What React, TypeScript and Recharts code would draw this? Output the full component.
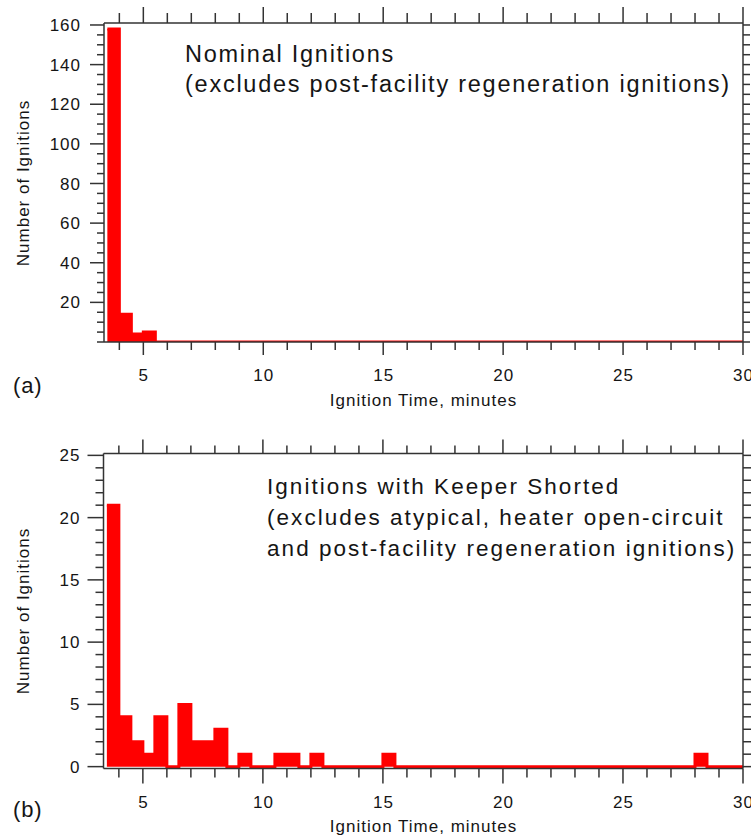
import { Area, ComposedChart, XAxis, YAxis } from 'recharts'

// histogram bins are 0.5 min wide; each value holds from its start to the next start
const BIN_START = [
  3.5, 4, 4.5, 5, 5.5, 6, 6.5, 7, 7.5, 8, 8.5, 9, 9.5, 10, 10.5, 11, 11.5, 12, 12.5, 13,
  13.5, 14, 14.5, 15, 15.5, 16, 16.5, 17, 17.5, 18, 18.5, 19, 19.5, 20, 20.5, 21, 21.5, 22,
  22.5, 23, 23.5, 24, 24.5, 25, 25.5, 26, 26.5, 27, 27.5, 28, 28.5, 29, 29.5, 30,
]

const NOMINAL_COUNTS = [
  158, 14, 4, 5, 0, 0, 0, 0, 0, 0, 0, 0, 0, 0, 0, 0, 0, 0, 0, 0,
  0, 0, 0, 0, 0, 0, 0, 0, 0, 0, 0, 0, 0, 0, 0, 0, 0, 0,
  0, 0, 0, 0, 0, 0, 0, 0, 0, 0, 0, 0, 0, 0, 0, 0,
]

const KEEPER_COUNTS = [
  21, 4, 2, 1, 4, 0, 5, 2, 2, 3, 0, 1, 0, 0, 1, 1, 0, 1, 0, 0,
  0, 0, 0, 1, 0, 0, 0, 0, 0, 0, 0, 0, 0, 0, 0, 0, 0, 0,
  0, 0, 0, 0, 0, 0, 0, 0, 0, 0, 0, 1, 0, 0, 0, 0,
]

const X_TICKS = [4, 5, 6, 7, 8, 9, 10, 11, 12, 13, 14, 15, 16, 17, 18, 19, 20, 21, 22, 23, 24, 25, 26, 27, 28, 29, 30]
const X_LABELS = [5, 10, 15, 20, 25, 30]

const NOMINAL_Y_TICKS = [0, 5, 10, 15, 20, 25, 30, 35, 40, 45, 50, 55, 60, 65, 70, 75, 80, 85, 90, 95, 100, 105, 110, 115, 120, 125, 130, 135, 140, 145, 150, 155, 160]
const NOMINAL_Y_LABELS = [20, 40, 60, 80, 100, 120, 140, 160]

const KEEPER_Y_TICKS = [0, 1, 2, 3, 4, 5, 6, 7, 8, 9, 10, 11, 12, 13, 14, 15, 16, 17, 18, 19, 20, 21, 22, 23, 24, 25]
const KEEPER_Y_LABELS = [0, 5, 10, 15, 20, 25]

const AXIS = '#333'
const INK = '#151515'
const RED = '#ff0000'
const FONT = '"Liberation Sans", Arial, sans-serif'

type Side = 'top' | 'bottom' | 'left' | 'right'

interface TickOpts {
  side: Side
  majors: number[]
  majorLen: number
  minorLen: number
  labelGap?: number
}

// tickSize/tickMargin are 0, so x/y passed in sit on the axis line
function makeTick({ side, majors, majorLen, minorLen, labelGap }: TickOpts) {
  return (props: any) => {
    const { x, y, payload } = props
    const v = payload.value
    const major = majors.includes(v)
    const len = major ? majorLen : minorLen
    const ls = { stroke: AXIS, strokeWidth: 1.5 }
    const txt = { fontFamily: FONT, fontSize: 17, letterSpacing: 1, fill: INK }
    if (side === 'bottom') {
      return (
        <g>
          <line x1={x} x2={x} y1={y} y2={y + len} {...ls} />
          {major && labelGap && (
            <text x={x + 0.5} y={y + labelGap} dy="0.36em" textAnchor="middle" {...txt}>
              {v}
            </text>
          )}
        </g>
      )
    }
    if (side === 'top') {
      return <line x1={x} x2={x} y1={y} y2={y - len} {...ls} />
    }
    if (side === 'left') {
      return (
        <g>
          <line x1={x - len} x2={x} y1={y} y2={y} {...ls} />
          {major && labelGap && (
            <text x={x - labelGap} y={y} dy="0.36em" textAnchor="end" {...txt}>
              {v}
            </text>
          )}
        </g>
      )
    }
    return <line x1={x} x2={x + len} y1={y} y2={y} {...ls} />
  }
}

interface PanelProps {
  counts: number[]
  yDomain: [number, number]
  yTicks: number[]
  yLabels: number[]
  height: number
  // plot box edges in this chart's own coordinates
  box: { top: number; right: number; bottom: number; left: number }
  topMajor: number
  topMinor: number
  leftMajor: number
  leftMinor: number
  bottomMajor: number
  bottomMinor: number
  rightLen: number
}

function Panel(p: PanelProps) {
  const data = BIN_START.map((t, i) => ({ t, count: p.counts[i] }))
  const axisLine = { stroke: AXIS, strokeWidth: 1.5 }
  // every axis is 1px thick (a 0px axis is not drawn), so margins give up that pixel
  const margin = {
    top: p.box.top - 1,
    left: p.box.left - 1,
    right: 751 - p.box.right - 1,
    bottom: p.height - p.box.bottom - 1,
  }
  return (
    <ComposedChart width={751} height={p.height} data={data} margin={margin}>
      <XAxis
        xAxisId="bottom"
        dataKey="t"
        type="number"
        domain={[3.36, 30]}
        allowDataOverflow
        ticks={X_TICKS}
        interval={0}
        height={1}
        tickSize={0}
        tickMargin={0}
        tickLine={false}
        axisLine={axisLine}
        tick={makeTick({ side: 'bottom', majors: X_LABELS, majorLen: p.bottomMajor, minorLen: p.bottomMinor, labelGap: 33 })}
      />
      <XAxis
        xAxisId="top"
        orientation="top"
        dataKey="t"
        type="number"
        domain={[3.36, 30]}
        allowDataOverflow
        ticks={X_TICKS}
        interval={0}
        height={1}
        tickSize={0}
        tickMargin={0}
        tickLine={false}
        axisLine={axisLine}
        tick={makeTick({ side: 'top', majors: X_LABELS, majorLen: p.topMajor, minorLen: p.topMinor })}
      />
      <YAxis
        yAxisId="left"
        type="number"
        domain={p.yDomain}
        allowDataOverflow
        ticks={p.yTicks}
        interval={0}
        width={1}
        tickSize={0}
        tickMargin={0}
        tickLine={false}
        axisLine={axisLine}
        tick={makeTick({ side: 'left', majors: p.yLabels, majorLen: p.leftMajor, minorLen: p.leftMinor, labelGap: 23 })}
      />
      <YAxis
        yAxisId="right"
        orientation="right"
        type="number"
        domain={p.yDomain}
        allowDataOverflow
        ticks={p.yTicks}
        interval={0}
        width={1}
        tickSize={0}
        tickMargin={0}
        tickLine={false}
        axisLine={axisLine}
        tick={makeTick({ side: 'right', majors: [], majorLen: p.rightLen, minorLen: p.rightLen })}
      />
      <Area
        xAxisId="bottom"
        yAxisId="left"
        type="stepAfter"
        dataKey="count"
        baseValue={0}
        stroke={RED}
        strokeWidth={3}
        fill={RED}
        fillOpacity={1}
        dot={false}
        activeDot={false}
        isAnimationActive={false}
      />
    </ComposedChart>
  )
}

const txtBig = { fontFamily: FONT, fill: INK }
const txtSmall = { fontFamily: FONT, fontSize: 17, letterSpacing: 1, fill: INK }

export default function App() {
  return (
    <div style={{ position: 'absolute', left: 0, top: 0, width: 751, height: 836, background: '#fff' }}>
      <div style={{ position: 'absolute', left: 0, top: 0 }}>
        <Panel
          counts={NOMINAL_COUNTS}
          yDomain={[0, 161]}
          yTicks={NOMINAL_Y_TICKS}
          yLabels={NOMINAL_Y_LABELS}
          height={420}
          box={{ top: 23, right: 743, bottom: 342, left: 104 }}
          topMajor={16}
          topMinor={10}
          leftMajor={14}
          leftMinor={7}
          bottomMajor={13}
          bottomMinor={8}
          rightLen={7}
        />
      </div>
      <div style={{ position: 'absolute', left: 0, top: 420 }}>
        <Panel
          counts={KEEPER_COUNTS}
          yDomain={[-0.15, 25.15]}
          yTicks={KEEPER_Y_TICKS}
          yLabels={KEEPER_Y_LABELS}
          height={416}
          box={{ top: 33.5, right: 743, bottom: 348.5, left: 103.5 }}
          topMajor={14}
          topMinor={8}
          leftMajor={16}
          leftMinor={8}
          bottomMajor={15}
          bottomMinor={9}
          rightLen={8}
        />
      </div>
      <svg
        width={751}
        height={836}
        style={{ position: 'absolute', left: 0, top: 0, pointerEvents: 'none' }}
      >
        <text x={185} y={62} fontSize={23.5} letterSpacing={1.75} {...txtBig}>
          Nominal Ignitions
        </text>
        <text x={185} y={92} fontSize={23.5} letterSpacing={1.75} {...txtBig}>
          (excludes post-facility regeneration ignitions)
        </text>
        <text x={423.5} y={406} textAnchor="middle" {...txtSmall}>
          Ignition Time, minutes
        </text>
        <text x={13} y={393} fontSize={22} letterSpacing={0.8} {...txtBig}>
          (a)
        </text>
        <text x={23} y={183} transform="rotate(-90 23 183)" textAnchor="middle" dy="0.36em" {...txtSmall}>
          Number of Ignitions
        </text>

        <text x={267} y={494} fontSize={22.5} letterSpacing={2.05} {...txtBig}>
          Ignitions with Keeper Shorted
        </text>
        <text x={267} y={525} fontSize={22.5} letterSpacing={2.05} {...txtBig}>
          (excludes atypical, heater open-circuit
        </text>
        <text x={267} y={555.5} fontSize={22.5} letterSpacing={2.05} {...txtBig}>
          and post-facility regeneration ignitions)
        </text>
        <text x={423.5} y={832} textAnchor="middle" {...txtSmall}>
          Ignition Time, minutes
        </text>
        <text x={13} y={817} fontSize={22} letterSpacing={0.8} {...txtBig}>
          (b)
        </text>
        <text x={23} y={611} transform="rotate(-90 23 611)" textAnchor="middle" dy="0.36em" {...txtSmall}>
          Number of Ignitions
        </text>
      </svg>
    </div>
  )
}
